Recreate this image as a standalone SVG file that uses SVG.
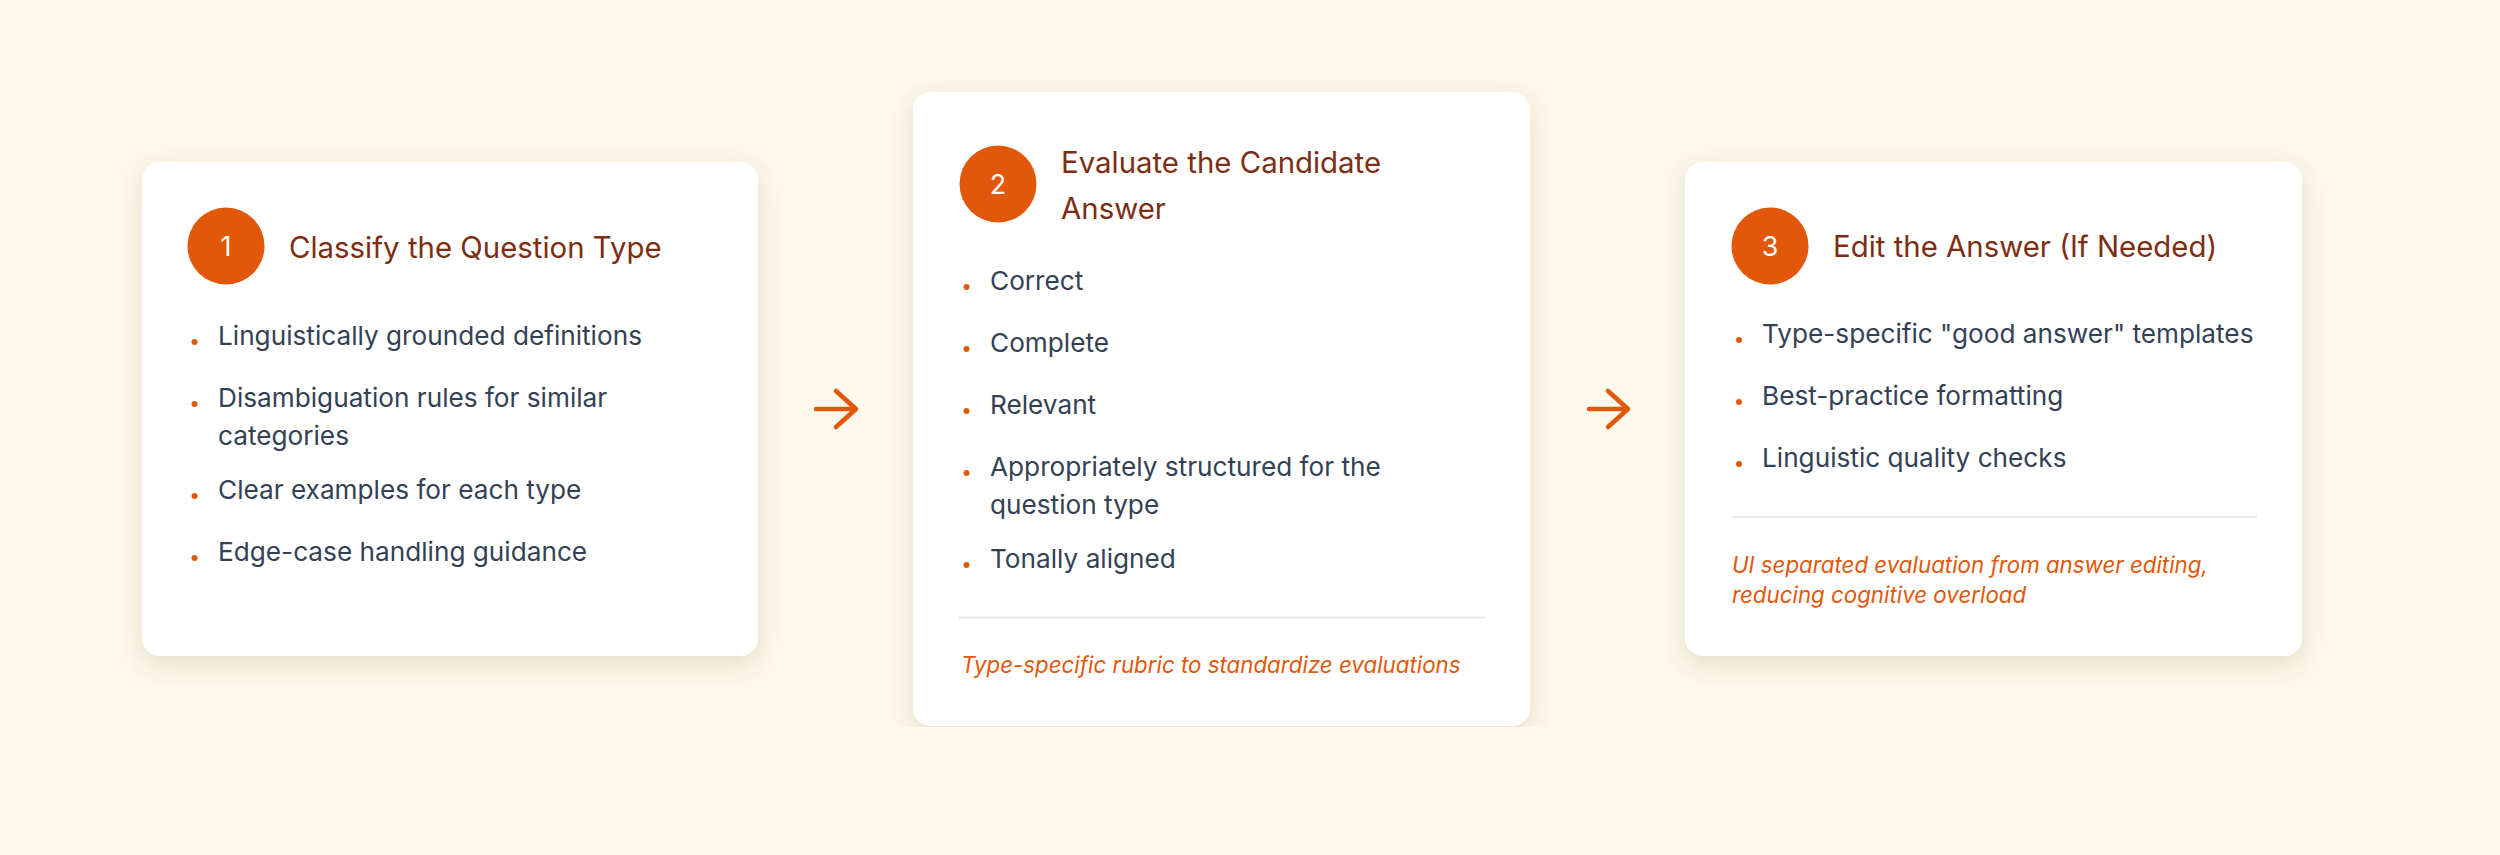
<svg xmlns="http://www.w3.org/2000/svg" width="2500" height="855" viewBox="0 0 2500 855">
  <defs>
    <filter id="shadow" x="-10%" y="-10%" width="120%" height="130%">
      <feDropShadow dx="0" dy="8" stdDeviation="13" flood-color="#6e5420" flood-opacity="0.18"/>
    </filter>
    <clipPath id="clip">
      <rect x="0" y="0" width="2500" height="727"/>
    </clipPath>
    <style>
      .card { fill: #ffffff; filter: url(#shadow); }
      .badge { fill: #e2580b; }
      .num { font-family: Inter, "Liberation Sans", sans-serif; font-size: 27px; fill: #ffffff; text-anchor: middle; }
      .title { font-family: Inter, "Liberation Sans", sans-serif; font-size: 29.4px; fill: #7c2d12; }
      .item { font-family: Inter, "Liberation Sans", sans-serif; font-size: 26.2px; fill: #334155; }
      .dot { fill: #e2580b; }
      .rule { stroke: #e5e7eb; stroke-width: 2; }
      .note { font-family: Inter, "Liberation Sans", sans-serif; font-size: 22.3px; font-style: italic; fill: #e2580b; }
      .arrow { fill: none; stroke: #e2580b; stroke-width: 4.5; stroke-linecap: round; stroke-linejoin: round; }
    </style>
  </defs>
  <rect x="0" y="0" width="2500" height="855" fill="#fdf9ec"/>
  <g clip-path="url(#clip)">
    <g id="step1">
      <rect class="card" x="142" y="162" width="616" height="494" rx="18"/>
      <circle class="badge" cx="226" cy="246" r="38.5"/>
      <text class="num" x="226" y="256">1</text>
      <text class="title" x="289" y="258">Classify the Question Type</text>
      <circle class="dot" cx="194.5" cy="342" r="3"/>
      <text class="item" x="218" y="345">Linguistically grounded definitions</text>
      <circle class="dot" cx="194.5" cy="404" r="3"/>
      <text class="item" x="218" y="407">Disambiguation rules for similar</text>
      <text class="item" x="218" y="445">categories</text>
      <circle class="dot" cx="194.5" cy="496" r="3"/>
      <text class="item" x="218" y="499">Clear examples for each type</text>
      <circle class="dot" cx="194.5" cy="558" r="3"/>
      <text class="item" x="218" y="561">Edge-case handling guidance</text>
    </g>
    <g id="step2">
      <rect class="card" x="913" y="92" width="617" height="634" rx="18"/>
      <circle class="badge" cx="998" cy="184" r="38.5"/>
      <text class="num" x="998" y="194">2</text>
      <text class="title" x="1061" y="173">Evaluate the Candidate</text>
      <text class="title" x="1061" y="219">Answer</text>
      <circle class="dot" cx="966.5" cy="287" r="3"/>
      <text class="item" x="990" y="290">Correct</text>
      <circle class="dot" cx="966.5" cy="349" r="3"/>
      <text class="item" x="990" y="352">Complete</text>
      <circle class="dot" cx="966.5" cy="411" r="3"/>
      <text class="item" x="990" y="414">Relevant</text>
      <circle class="dot" cx="966.5" cy="473" r="3"/>
      <text class="item" x="990" y="476">Appropriately structured for the</text>
      <text class="item" x="990" y="514">question type</text>
      <circle class="dot" cx="966.5" cy="565" r="3"/>
      <text class="item" x="990" y="568">Tonally aligned</text>
      <line class="rule" x1="959" y1="617.5" x2="1485" y2="617.5"/>
      <text class="note" x="961" y="673">Type-specific rubric to standardize evaluations</text>
    </g>
    <g id="step3">
      <rect class="card" x="1685" y="162" width="617" height="494" rx="18"/>
      <circle class="badge" cx="1770" cy="246" r="38.5"/>
      <text class="num" x="1770" y="256">3</text>
      <text class="title" x="1833" y="257">Edit the Answer (If Needed)</text>
      <circle class="dot" cx="1739" cy="340" r="3"/>
      <text class="item" x="1762" y="343">Type-specific "good answer" templates</text>
      <circle class="dot" cx="1739" cy="402" r="3"/>
      <text class="item" x="1762" y="405">Best-practice formatting</text>
      <circle class="dot" cx="1739" cy="464" r="3"/>
      <text class="item" x="1762" y="467">Linguistic quality checks</text>
      <line class="rule" x1="1732" y1="517" x2="2257" y2="517"/>
      <text class="note" x="1732" y="573">UI separated evaluation from answer editing,</text>
      <text class="note" x="1732" y="603">reducing cognitive overload</text>
    </g>
  </g>
  <g id="connectors">
    <path class="arrow" d="M816 409 H856 M836 391 L856 409 L836 427"/>
    <path class="arrow" d="M1589 409 H1628 M1608 391 L1628 409 L1608 427"/>
  </g>
</svg>
